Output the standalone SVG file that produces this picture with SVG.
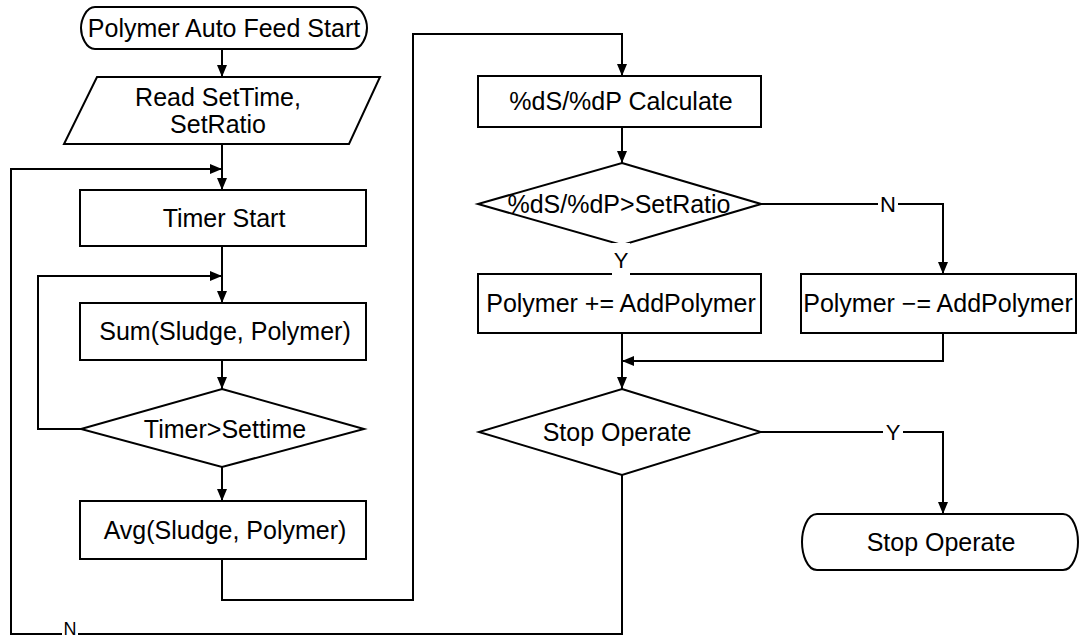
<svg xmlns="http://www.w3.org/2000/svg" width="1082" height="640" viewBox="0 0 1082 640">
<style>
.s{fill:#fff;stroke:#000;stroke-width:2}
.t{font-family:"Liberation Sans",Arial,sans-serif;font-size:25px;fill:#000;text-anchor:middle}
.l{font-family:"Liberation Sans",Arial,sans-serif;font-size:22px;fill:#000;text-anchor:middle}
.c{fill:none;stroke:#000;stroke-width:2}
.a{marker-end:url(#ah)}
</style>
<defs>
<marker id="ah" markerUnits="userSpaceOnUse" markerWidth="12" markerHeight="12" refX="12" refY="6" orient="auto" viewBox="0 0 12 12">
<path d="M0,1 L12,6 L0,11 Z" fill="#000"/>
</marker>
</defs>
<rect width="1082" height="640" fill="#fff"/>
<g id="connectors">
<path class="c a" d="M222,49 V77"/>
<path class="c a" d="M222,144 V190"/>
<path class="c a" d="M622,475 V634 H11 V169 H222"/>
<path class="c a" d="M222,246 V303"/>
<path class="c a" d="M222,360 V389"/>
<path class="c a" d="M81,429 H38 V276 H222"/>
<path class="c a" d="M222,467 V501"/>
<path class="c a" d="M222,559 V600 H413 V34 H622 V76"/>
<path class="c a" d="M622,127 V163"/>
<path class="c a" d="M761,204 H943 V274"/>
<path class="c" d="M622,245 V274"/>
<path class="c a" d="M622,333 V389"/>
<path class="c a" d="M943,333 V361 H622"/>
<path class="c a" d="M761,432 H943 V514"/>
</g>
<g id="start">
<path class="s" d="M95,7 H353 C362,7 367,20 367,28 C367,36 362,49 353,49 H95 C86,49 81,36 81,28 C81,20 86,7 95,7 Z"/>
<text class="t" x="224" y="37">Polymer Auto Feed Start</text>
</g>
<g id="read">
<path class="s" d="M97,77 H380 L349,144 H64 Z"/>
<text class="t" x="218" y="106">Read SetTime,</text>
<text class="t" x="218" y="133">SetRatio</text>
</g>
<g id="timerstart">
<rect class="s" x="80" y="190" width="286" height="56"/>
<text class="t" x="224" y="227">Timer Start</text>
</g>
<g id="sum">
<rect class="s" x="80" y="303" width="286" height="57"/>
<text class="t" x="225" y="340">Sum(Sludge, Polymer)</text>
</g>
<g id="timercheck">
<path class="s" d="M222,389 L364,429 L222,467 L81,429 Z"/>
<text class="t" x="225" y="438">Timer&gt;Settime</text>
</g>
<g id="avg">
<rect class="s" x="80" y="501" width="286" height="58"/>
<text class="t" x="225" y="539">Avg(Sludge, Polymer)</text>
</g>
<g id="calc">
<rect class="s" x="478" y="76" width="283" height="51"/>
<text class="t" x="621" y="110">%dS/%dP Calculate</text>
</g>
<g id="ratiocheck">
<path class="s" d="M622,163 L761,204 L622,245 L478,204 Z"/>
<text class="t" x="619" y="213">%dS/%dP&gt;SetRatio</text>
</g>
<g id="add">
<rect class="s" x="478" y="274" width="283" height="59"/>
<text class="t" x="621" y="312">Polymer += AddPolymer</text>
</g>
<g id="sub">
<rect class="s" x="801" y="274" width="275" height="59"/>
<text class="t" x="938" y="312">Polymer −= AddPolymer</text>
</g>
<g id="stopcheck">
<path class="s" d="M622,389 L761,432 L622,475 L479,432 Z"/>
<text class="t" x="617" y="441">Stop Operate</text>
</g>
<g id="stop">
<path class="s" d="M817,514 H1063 C1073,514 1078,530 1078,542 C1078,554 1073,570 1063,570 H817 C807,570 802,554 802,542 C802,530 807,514 817,514 Z"/>
<text class="t" x="941" y="551">Stop Operate</text>
</g>
<g id="labels">
<rect x="878" y="195" width="20" height="18" fill="#fff"/>
<text class="l" x="888" y="212">N</text>
<rect x="612" y="243" width="18" height="32" fill="#fff"/>
<text class="l" x="621" y="268">Y</text>
<rect x="883" y="423" width="20" height="18" fill="#fff"/>
<text class="l" x="893" y="440">Y</text>
<rect x="62" y="622" width="16" height="18" fill="#fff"/>
<text class="l" x="70" y="635" style="font-size:18px">N</text>
</g>
</svg>
